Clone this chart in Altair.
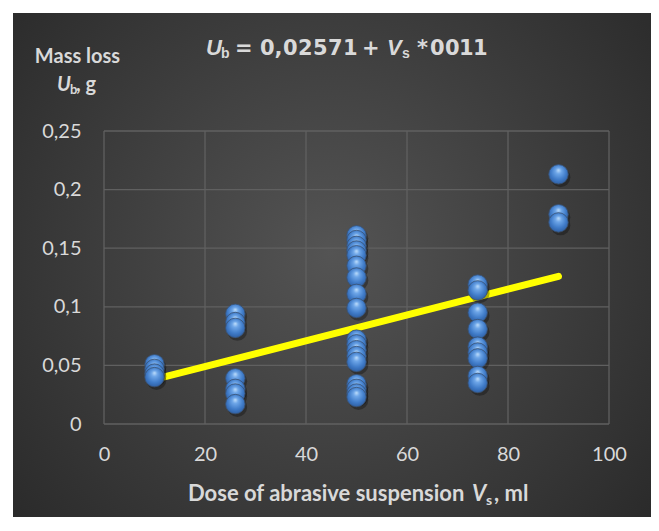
import altair as alt
import pandas as pd

# ---- data ----
dose_10 = [0.051, 0.047, 0.043, 0.040]
dose_26 = [0.094, 0.087, 0.082, 0.039, 0.030, 0.026, 0.017]
dose_50 = [0.161, 0.157, 0.152, 0.148, 0.144, 0.135, 0.125, 0.111, 0.099,
           0.072, 0.068, 0.063, 0.058, 0.053, 0.034, 0.030, 0.026, 0.023]
dose_74 = [0.119, 0.114, 0.095, 0.081, 0.066, 0.061, 0.056, 0.041, 0.035]
dose_90 = [0.213, 0.179, 0.172]

trend_x = [10, 90]
trend_y = [0.038, 0.126]

x_ticks = [0, 20, 40, 60, 80, 100]
y_ticks = [0, 0.05, 0.1, 0.15, 0.2, 0.25]

rows = []
for d, vals in [(10, dose_10), (26, dose_26), (50, dose_50), (74, dose_74), (90, dose_90)]:
    for v in vals:
        rows.append({"x": d, "y": v})
pts = pd.DataFrame(rows)
trend = pd.DataFrame({"x": trend_x, "y": trend_y})
xg = pd.DataFrame({"x": x_ticks})
yg = pd.DataFrame({"y": y_ticks})

# ---- layout ----
W, H = 505, 293
PL, PT = 96, 123          # plot origin on page = (104, 131)
TOTAL_W, TOTAL_H = 643, 509
OX, OY = 8 + PL, 8 + PT


def rx(px):
    return px - OX


def ry(py):
    return py - OY


TXT = "#d9d9d9"
GRID = "#606060"

xs = alt.Scale(domain=[0, 100], nice=False, zero=False)
ys = alt.Scale(domain=[0, 0.25], nice=False, zero=False)

bg = alt.Chart(pd.DataFrame({"a": [0]})).mark_rect(
    fill={"gradient": "radial", "x1": 0.5, "y1": 0.48, "r1": 0,
          "x2": 0.5, "y2": 0.48, "r2": 0.72,
          "stops": [{"offset": 0, "color": "#545454"},
                    {"offset": 1, "color": "#262626"}]}
).encode(x=alt.value(rx(13)), x2=alt.value(rx(8 + TOTAL_W)),
         y=alt.value(ry(13)), y2=alt.value(ry(8 + TOTAL_H)))

xgrid = alt.Chart(xg).mark_rule(color=GRID, strokeWidth=1.3).encode(
    x=alt.X("x:Q", scale=xs,
            axis=alt.Axis(values=x_ticks, grid=False, ticks=False, domain=False,
                          title=None, labelFont="Lato", labelFontSize=20,
                          labelFlush=False, labelOverlap=False,
                          labelColor=TXT, labelPadding=20, zindex=1)),
    y=alt.value(0), y2=alt.value(H))

ygrid = alt.Chart(yg).mark_rule(color=GRID, strokeWidth=1.3).encode(
    y=alt.Y("y:Q", scale=ys,
            axis=alt.Axis(values=y_ticks, grid=False, ticks=False, domain=False,
                          title=None, format="~g", labelFlush=False, labelOverlap=False,
                          labelExpr="replace(datum.label, '.', ',')",
                          labelFont="Lato", labelFontSize=20,
                          labelColor=TXT, labelPadding=23, zindex=1)),
    x=alt.value(0), x2=alt.value(W))

line = alt.Chart(trend).mark_line(color="#ffff00", strokeWidth=7, strokeCap="round").encode(
    x=alt.X("x:Q", scale=xs), y=alt.Y("y:Q", scale=ys))

shadow = alt.Chart(pts).mark_circle(color="#000000", opacity=0.3, size=390,
                                    xOffset=2, yOffset=3).encode(
    x=alt.X("x:Q", scale=xs), y=alt.Y("y:Q", scale=ys))

balls = alt.Chart(pts).mark_circle(
    size=380, opacity=1, stroke="#3a5272", strokeWidth=0.8,
    fill={"gradient": "radial", "x1": 0.5, "y1": 0.28, "r1": 0,
          "x2": 0.5, "y2": 0.45, "r2": 0.6,
          "stops": [{"offset": 0, "color": "#c2e0fc"},
                    {"offset": 0.25, "color": "#6ea6e8"},
                    {"offset": 0.65, "color": "#3f7bc8"},
                    {"offset": 1, "color": "#2c5a9c"}]}
).encode(x=alt.X("x:Q", scale=xs), y=alt.Y("y:Q", scale=ys))


def txt(s, px, py, size, font="Lato", weight="bold", style="normal", align="left", color=TXT):
    return alt.Chart(pd.DataFrame({"a": [0]})).mark_text(
        font=font, fontSize=size, fontWeight=weight, fontStyle=style,
        align=align, baseline="alphabetic", color=color
    ).encode(x=alt.value(rx(px)), y=alt.value(ry(py)), text=alt.value(s))


# equation title, letter-spaced glyph by glyph
eq_chars = ["=", "0", ",", "0", "2", "5", "7", "1", "+", "*", "0", "0", "1", "1"]
eq_left = [235, 260, 274.5, 283, 298, 313, 328, 343, 362, 417, 430, 445, 459, 473]

texts = [
    txt("U", 206, 55, 22, font="Liberation Sans", style="italic"),
    txt("b", 221, 58, 14, font="Liberation Sans"),
    txt("V", 387, 55, 22, font="Liberation Sans", style="italic"),
    txt("s", 402, 58, 14, font="Liberation Sans"),
]
for c, px in zip(eq_chars, eq_left):
    texts.append(txt(c, px, 55, 21, font="DejaVu Sans"))

texts += [
    # y title
    txt("Mass loss", 77.5, 63, 20, align="center"),
    txt("U", 57, 91, 20, style="italic"),
    txt("b", 70, 94, 13),
    txt(", g", 76, 91, 20),
    # x title
    txt("Dose of abrasive suspension", 188, 501, 22),
    txt("V", 472, 501, 22, style="italic"),
    txt("s", 486, 505, 14),
    txt(", ml", 494, 501, 22),
]

chart = alt.layer(bg, xgrid, ygrid, line, shadow, balls, *texts).properties(
    width=W, height=H,
    autosize=alt.AutoSizeParams(type="none"),
    padding={"left": PL, "top": PT, "right": TOTAL_W - PL - W, "bottom": TOTAL_H - PT - H},
    background="#ffffff",
).configure_view(stroke=None)

chart.save("out.html", embed_options={"renderer": "svg", "actions": False})
